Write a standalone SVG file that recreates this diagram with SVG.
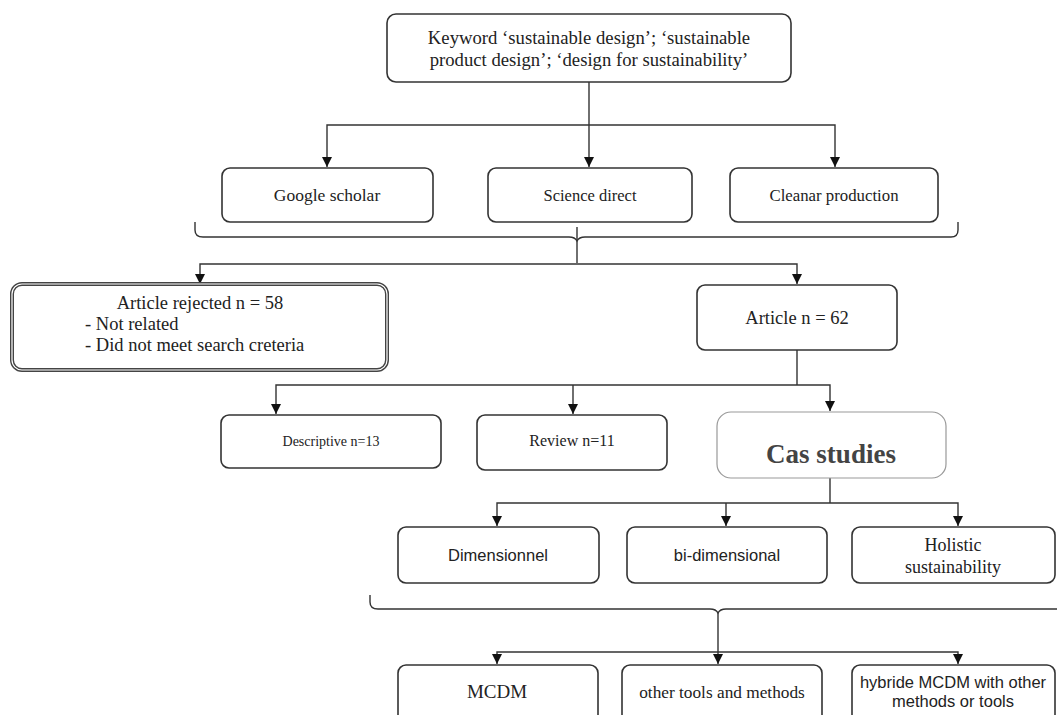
<svg xmlns="http://www.w3.org/2000/svg" width="1057" height="715" viewBox="0 0 1057 715">
<defs>
<marker id="ah" markerWidth="10" markerHeight="10" refX="10" refY="5" orient="auto-start-reverse" markerUnits="userSpaceOnUse" viewBox="0 0 10 10">
<path d="M0,0 L10,5 L0,10 z" fill="#111"/>
</marker>
<style>
.box{fill:#fff;stroke:#333;stroke-width:1.6}
.ln{fill:none;stroke:#333;stroke-width:1.4}
.ser{font-family:"Liberation Serif",serif;fill:#222;font-size:18px}
.sans{font-family:"Liberation Sans",sans-serif;fill:#222;font-size:16.5px}
.c{text-anchor:middle}
</style>
</defs>
<rect width="1057" height="715" fill="#fff"/>

<g id="connectors">
<path class="ln" d="M589,82 V167" marker-end="url(#ah)"/>
<path class="ln" d="M327,167 V125 H835 V167" marker-end="url(#ah)" marker-start="url(#ah)"/>
<path class="ln" d="M195,222 V230 Q195,237 203,237 H569 Q575,237 577,241 Q579,237 585,237 H951 Q958,237 958,230 V222"/>
<path class="ln" d="M577,227 V263"/>
<path class="ln" d="M200,284 V264 H797 V284" marker-end="url(#ah)" marker-start="url(#ah)"/>
<path class="ln" d="M797,350 V385"/>
<path class="ln" d="M276,414 V385 H830 V411" marker-end="url(#ah)" marker-start="url(#ah)"/>
<path class="ln" d="M573,385 V414" marker-end="url(#ah)"/>
<path class="ln" d="M830,478 V503"/>
<path class="ln" d="M497,526 V503 H958 V526" marker-end="url(#ah)" marker-start="url(#ah)"/>
<path class="ln" d="M726,503 V526" marker-end="url(#ah)"/>
<path class="ln" d="M370,595 V602 Q370,609 378,609 H710 Q716,609 718,613 Q720,609 726,609 H1057"/>
<path class="ln" d="M718,613 V664" marker-end="url(#ah)"/>
<path class="ln" d="M497,664 V652 H958 V664" marker-end="url(#ah)" marker-start="url(#ah)"/>
</g>

<g id="keyword">
<rect class="box" x="387" y="14" width="404" height="68" rx="9"/>
<text class="ser c" x="589" y="44" style="font-size:18.7px">Keyword ‘sustainable design’; ‘sustainable</text>
<text class="ser c" x="589" y="66" style="font-size:18.7px">product design’; ‘design for sustainability’</text>
</g>
<g id="google">
<rect class="box" x="222" y="168" width="211" height="54" rx="8"/>
<text class="ser c" x="327" y="201" style="font-size:17.5px">Google scholar</text>
</g>
<g id="science">
<rect class="box" x="488" y="168" width="204" height="54" rx="8"/>
<text class="ser c" x="590" y="201" style="font-size:16.5px">Science direct</text>
</g>
<g id="cleanar">
<rect class="box" x="730" y="168" width="208" height="54" rx="8"/>
<text class="ser c" x="834" y="201" style="font-size:16.8px">Cleanar production</text>
</g>
<g id="rejected">
<rect x="12" y="284" width="375" height="86" rx="10" fill="#fff" stroke="#444" stroke-width="4"/>
<rect x="12" y="284" width="375" height="86" rx="10" fill="none" stroke="#fff" stroke-width="1.2"/>
<text class="ser c" x="200" y="309" style="font-size:18.5px">Article rejected n = 58</text>
<text class="ser" x="85" y="330" style="font-size:18.5px">- Not related</text>
<text class="ser" x="85" y="351" style="font-size:18.5px">- Did not meet search creteria</text>
</g>
<g id="article62">
<rect class="box" x="697" y="285" width="200" height="65" rx="8"/>
<text class="ser c" x="797" y="324" style="font-size:18.5px">Article n = 62</text>
</g>
<g id="descriptive">
<rect class="box" x="221" y="415" width="220" height="53" rx="8" stroke-width="2"/>
<text class="ser c" x="331" y="446" style="font-size:14px">Descriptive n=13</text>
</g>
<g id="review">
<rect class="box" x="477" y="415" width="190" height="55" rx="8"/>
<text class="ser c" x="572" y="446" style="font-size:16px">Review n=11</text>
</g>
<g id="cas">
<rect x="717" y="412" width="229" height="66" rx="14" fill="#fff" stroke="#999" stroke-width="1.2"/>
<text class="c" x="831" y="463" font-family="Liberation Serif, serif" font-size="27" font-weight="bold" fill="#444">Cas studies</text>
</g>
<g id="dimensionnel">
<rect class="box" x="398" y="527" width="201" height="56" rx="8"/>
<text class="sans c" x="498" y="561">Dimensionnel</text>
</g>
<g id="bidim">
<rect class="box" x="627" y="527" width="200" height="56" rx="8"/>
<text class="sans c" x="727" y="561">bi-dimensional</text>
</g>
<g id="holistic">
<rect class="box" x="852" y="527" width="203" height="56" rx="8"/>
<text class="ser c" x="953" y="551">Holistic</text>
<text class="ser c" x="953" y="573">sustainability</text>
</g>
<g id="mcdm">
<rect class="box" x="398" y="665" width="200" height="65" rx="8"/>
<text class="ser c" x="497" y="698" style="font-size:19px">MCDM</text>
</g>
<g id="other">
<rect class="box" x="622" y="665" width="200" height="65" rx="8"/>
<text class="ser c" x="722" y="698" style="font-size:17.3px">other tools and methods</text>
</g>
<g id="hybride">
<rect class="box" x="852" y="665" width="203" height="65" rx="8"/>
<text class="sans c" x="953" y="688">hybride MCDM with other</text>
<text class="sans c" x="953" y="707">methods or tools</text>
</g>
</svg>
